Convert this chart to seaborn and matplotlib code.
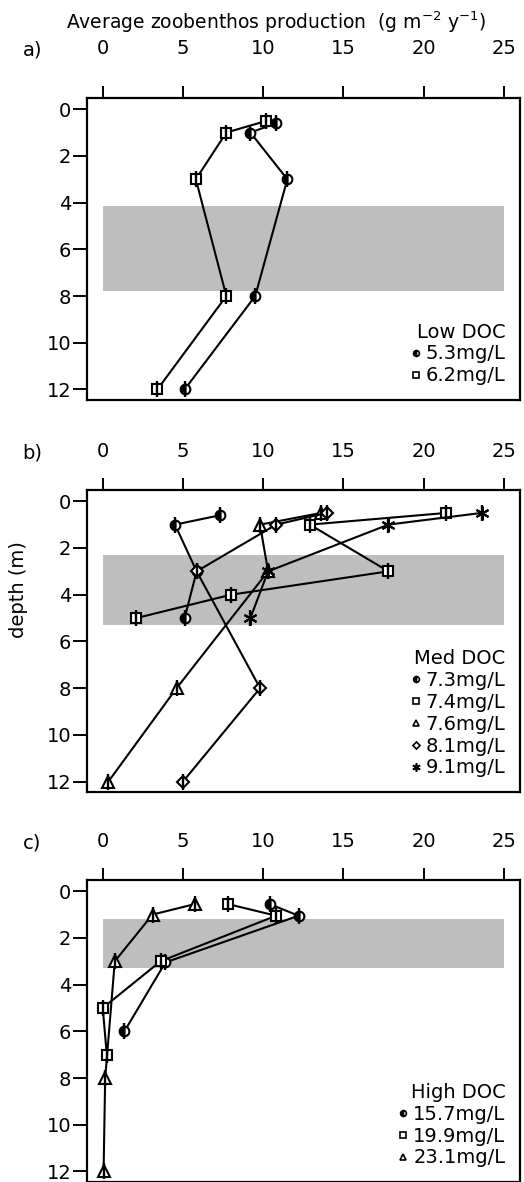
import pandas as pd
import seaborn as sns
import matplotlib.pyplot as plt
from matplotlib.lines import Line2D

# data: depth (m) and production (g m-2 y-1)
depth_a_53 = [0.6, 1.0, 3.0, 8.0, 12.0]
prod_a_53 = [10.8, 9.2, 11.5, 9.5, 5.1]
depth_a_62 = [0.5, 1.0, 3.0, 8.0, 12.0]
prod_a_62 = [10.2, 7.7, 5.8, 7.7, 3.4]

depth_b_73 = [0.6, 1.0, 3.0, 5.0]
prod_b_73 = [7.3, 4.5, 5.85, 5.1]
depth_b_74 = [0.5, 1.0, 3.0, 4.0, 5.0]
prod_b_74 = [21.4, 12.9, 17.8, 8.0, 2.1]
depth_b_76 = [0.5, 1.0, 3.0, 8.0, 12.0]
prod_b_76 = [13.6, 9.8, 10.3, 4.6, 0.35]
depth_b_81 = [0.5, 1.0, 3.0, 8.0, 12.0]
prod_b_81 = [13.95, 10.8, 5.85, 9.8, 5.0]
depth_b_91 = [0.5, 1.0, 3.0, 5.0]
prod_b_91 = [23.6, 17.8, 10.3, 9.2]

depth_c_157 = [0.55, 1.05, 3.05, 6.0]
prod_c_157 = [10.4, 12.2, 3.9, 1.35]
depth_c_199 = [0.55, 1.05, 3.0, 5.0, 7.0]
prod_c_199 = [7.8, 10.8, 3.6, 0.0, 0.25]
depth_c_231 = [0.55, 1.0, 3.0, 8.0, 12.0]
prod_c_231 = [5.75, 3.1, 0.75, 0.15, 0.05]

# shaded depth bands (top, bottom)
band_a = (4.15, 7.8)
band_b = (2.3, 5.3)
band_c = (1.2, 3.3)

xticks = [0, 5, 10, 15, 20, 25]
yticks = [0, 2, 4, 6, 8, 10, 12]

sns.set_style("ticks")
plt.rcParams['font.family'] = ['DejaVu Sans']
for k in ['text.color', 'axes.labelcolor', 'xtick.color', 'ytick.color',
          'axes.edgecolor']:
    plt.rcParams[k] = 'black'

# marker styles
half = dict(marker='o', fillstyle='left', markerfacecolor='black',
            markerfacecoloralt='white', ms=7)
sq = dict(marker='s', markerfacecolor='white', ms=7)
tri = dict(marker='^', markerfacecolor='white', ms=8)
dia = dict(marker='D', markerfacecolor='white', ms=6)
star = dict(marker=(6, 2, 0), ms=10)

panels = [
    ('a)', band_a, 'Low DOC', [
        (prod_a_53, depth_a_53, half, '5.3mg/L'),
        (prod_a_62, depth_a_62, sq, '6.2mg/L')], 0.6616, 20),
    ('b)', band_b, 'Med DOC', [
        (prod_b_73, depth_b_73, half, '7.3mg/L'),
        (prod_b_74, depth_b_74, sq, '7.4mg/L'),
        (prod_b_76, depth_b_76, tri, '7.6mg/L'),
        (prod_b_81, depth_b_81, dia, '8.1mg/L'),
        (prod_b_91, depth_b_91, star, '9.1mg/L')], 0.3299, 12),
    ('c)', band_c, 'High DOC', [
        (prod_c_157, depth_c_157, half, '15.7mg/L'),
        (prod_c_199, depth_c_199, sq, '19.9mg/L'),
        (prod_c_231, depth_c_231, tri, '23.1mg/L')], 0.0, 12),
]

fig = plt.figure(figsize=(5.24, 11.82), dpi=100)

for lab, band, title, series, y0, xpad in panels:
    ax = fig.add_axes([0.1655, y0, 0.8269, 0.2555])
    ax.fill_between([0, 25], band[0], band[1], color='#bebebe', lw=0, zorder=0)
    handles = []
    for x, y, mk, name in series:
        df = pd.DataFrame({'prod': x, 'depth': y})
        sns.lineplot(data=df, x='prod', y='depth', sort=False, estimator=None,
                     color='black', lw=1.5, mec='black', mew=1.5, ax=ax, **mk)
        ax.plot(x, y, ls='none', marker='|', ms=11, mew=1.7, color='black')
        hk = dict(mk)
        hk['ms'] = mk['ms'] * 0.6
        handles.append(Line2D([], [], ls='none', color='black', mec='black',
                              mew=1.2, label=name, **hk))
    ax.set_xlim(-1, 26)
    ax.set_ylim(12.45, -0.48)
    ax.set_xticks(xticks)
    ax.set_yticks(yticks)
    ax.xaxis.tick_top()
    ax.tick_params(axis='x', direction='out', length=8.6, width=1.4,
                   pad=xpad, labelsize=14, colors='black')
    ax.tick_params(axis='y', direction='out', length=10, width=1.4, pad=1,
                   labelsize=14, colors='black')
    ax.set_xlabel('')
    ax.set_ylabel('')
    for s in ax.spines.values():
        s.set_linewidth(1.6)
        s.set_visible(True)
        s.set_color('black')
    leg = ax.legend(handles=handles, loc='lower right', frameon=False,
                    title=title, alignment='right', fontsize=14,
                    title_fontsize=14, handlelength=0.5, handletextpad=0.25,
                    labelspacing=0.15, borderaxespad=0.45, borderpad=0.3)
    ax.text(-0.125, 1.0 + (xpad * 100 / 72 + 12 + 8) / 302, lab, fontsize=14,
            transform=ax.transAxes, ha='center', va='center')

fig.text(276 / 524, 1 - 22 / 1182,
         'Average zoobenthos production  (g m$^{-2}$ y$^{-1}$)',
         ha='center', va='center', fontsize=13.5)
fig.text(19 / 524, 1 - 590 / 1182, 'depth (m)', rotation=90,
         ha='center', va='center', fontsize=14)

fig.savefig('out.png', dpi=100)
